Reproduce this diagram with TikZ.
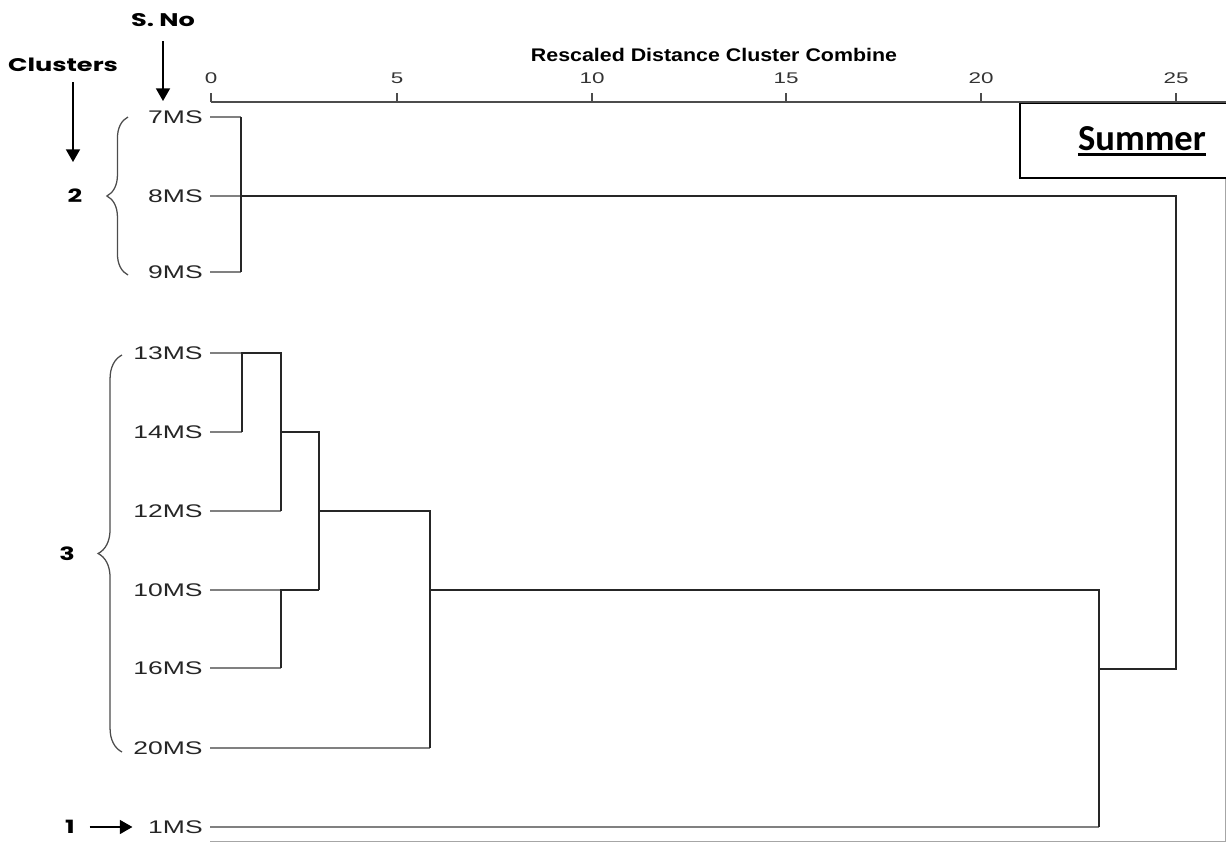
\documentclass[tikz,border=0pt]{standalone}
\usepackage{fontspec}
\setmainfont{Liberation Sans}
\newfontfamily\spssfont[FakeStretch=1.45]{Liberation Sans}
\newfontfamily\titlefont[FakeStretch=1.17]{Liberation Sans}
\newfontfamily\gothfont[FakeStretch=1.4]{Poppins}
\newfontfamily\calfont{Carlito}
\usetikzlibrary{arrows.meta,decorations.pathreplacing}

\begin{document}
\begin{tikzpicture}[x=0.025cm,y=-0.025cm,
	leaf/.style={anchor=east,inner xsep=5pt,inner ysep=0pt,font=\spssfont\fontsize{13}{15}\selectfont,text=black!85},
	tick label/.style={font=\spssfont\fontsize{11}{13}\selectfont,text=black!80},
	annot/.style={font=\gothfont\bfseries\fontsize{13}{15}\selectfont},
	leafline/.style={line width=1.5pt,black!50},
	link/.style={line width=1.9pt,black!85},
	axisline/.style={line width=1.4pt,black!70},
	frame/.style={line width=0.7pt,black!35},
	pointer/.style={-{Triangle[length=9pt,width=10pt]},line width=1.1pt},
	cbrace/.style={decorate,decoration={brace,amplitude=#1},black!70,line width=0.9pt},
	cbrace/.default=15pt]
	\useasboundingbox (0,0) rectangle (1226,842);
	
	\draw[frame] (210,841) -- (1225,841) -- (1225,102);
	\draw[line width=1.4pt,fill=white] (1020,103) rectangle (1240,178);
	\node[font=\calfont\bfseries\fontsize{26}{30}\selectfont,anchor=base,inner sep=0pt] (summer) at (1142,150) {Summer};
	\draw[line width=2.4pt] ([yshift=-3pt]summer.base west) -- ([yshift=-3pt]summer.base east);
	
	\draw[axisline] (211,102) -- (1226,102);
	\foreach \v/\x in {0/211,5/397,10/592,15/786,20/981,25/1176}{
		\draw[axisline] (\x,102) -- (\x,93);
		\node[tick label] (t\v) at (\x,78) {\v};
	}
	\node[font=\titlefont\bfseries\fontsize{13}{15}\selectfont] (title) at (714,55) {Rescaled Distance Cluster Combine};
	
	\node[annot] (sno) at (163,20) {S. No};
	\node[annot] (clu) at (63,65) {Clusters};
	\node[annot] (c2) at (75,196) {2};
	\node[annot] (c3) at (67,554) {3};
	\node[annot] (c1) at (70,827) {1};
	
	\foreach \n/\y in {7/117,8/196,9/272,13/353,14/432,12/511,10/590,16/668,20/748,1/827}
		\node[leaf] (l\n) at (210,\y) {\n MS};
	
	\coordinate (snoend) at (163,101);
	\coordinate (cluend) at (73,162);
	\draw[pointer,shorten <=7pt] (sno.south) -- (snoend);
	\draw[pointer,shorten <=4pt] (clu.south -| cluend) -- (cluend);
	\draw[pointer,shorten <=7pt,shorten >=6pt] (c1) -- (l1);
	
	\draw[cbrace] (128,275) -- (128,117);
	\draw[cbrace=17pt] (122,752) -- (122,355);
	
	\coordinate (j1) at (241,196);
	\coordinate (j2) at (242,353);
	\coordinate (j3) at (281,432);
	\coordinate (j4) at (281,590);
	\coordinate (j5) at (319,511);
	\coordinate (j6) at (430,590);
	\coordinate (j7) at (1099,669);
	\coordinate (j8) at (1176,196);
	
	% leaves
	\draw[leafline] (l7.east) -- (l7 -| j1);
	\draw[leafline] (l8.east) -- (j1);
	\draw[leafline] (l9.east) -- (l9 -| j1);
	\draw[leafline] (l13.east) -- (j2);
	\draw[leafline] (l14.east) -- (l14 -| j2);
	\draw[leafline] (l12.east) -- (l12 -| j3);
	\draw[leafline] (l10.east) -- (j4);
	\draw[leafline] (l16.east) -- (l16 -| j4);
	\draw[leafline] (l20.east) -- (l20 -| j6);
	\draw[leafline] (l1.east) -- (l1 -| j7);
	
	% joins
	\draw[link] (l7 -| j1) -- (l9 -| j1);
	\draw[link] (j1) -- (j8) |- (j7);
	\draw[link] (l14 -| j2) -- (j2) -- (j2 -| j3) -- (l12 -| j3);
	\draw[link] (j3) -- (j3 -| j5) -- (j4 -| j5);
	\draw[link] (l16 -| j4) -- (j4) -- (j4 -| j5);
	\draw[link] (j5) -- (j5 -| j6) -- (l20 -| j6);
	\draw[link] (j6) -- (j6 -| j7) -- (l1 -| j7);
\end{tikzpicture}
\end{document}
